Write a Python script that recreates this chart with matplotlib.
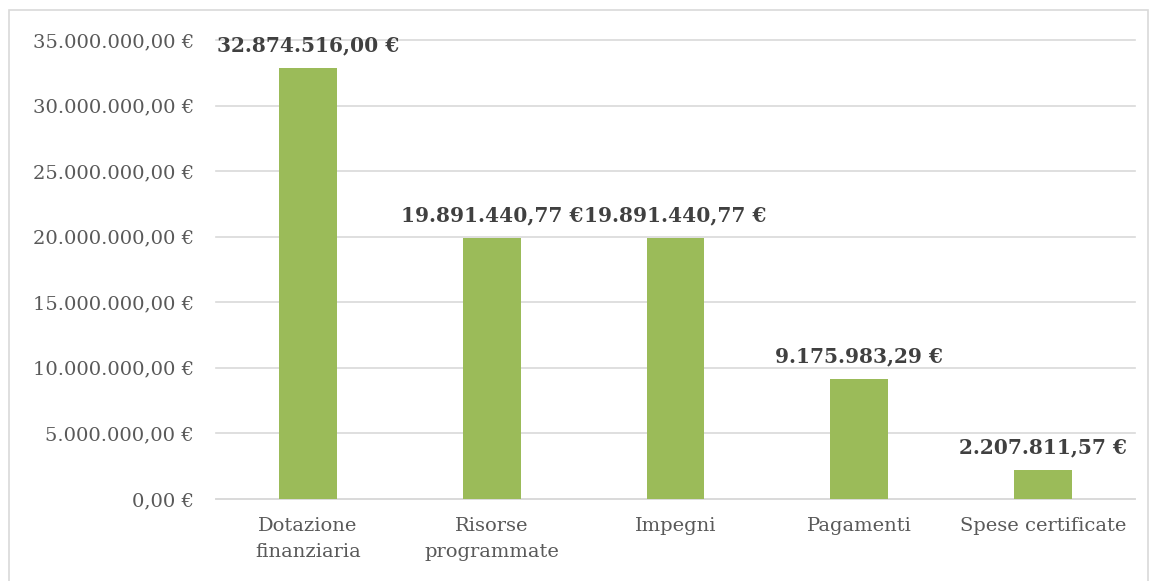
import matplotlib.pyplot as plt
from matplotlib.patches import Rectangle

categories = ["Dotazione\nfinanziaria", "Risorse\nprogrammate", "Impegni", "Pagamenti", "Spese certificate"]
values = [32874516.00, 19891440.77, 19891440.77, 9175983.29, 2207811.57]
yticks = [0, 5e6, 10e6, 15e6, 20e6, 25e6, 30e6, 35e6]


def euro(v):
    s = "{:,.2f}".format(v)
    s = s.replace(",", "X").replace(".", ",").replace("X", ".")
    return s + " €"


plt.rcParams['font.family'] = ['DejaVu Serif']

fig = plt.figure(figsize=(11.5, 5.81), dpi=100)
fig.patches.append(Rectangle((9 / 1150, -0.01), 1139 / 1150, 1 - 10 / 581 + 0.01,
                             transform=fig.transFigure, fill=False,
                             edgecolor='#D9D9D9', linewidth=1.2))

ax = fig.add_axes([216 / 1150, 1 - 499 / 581, (1135 - 216) / 1150, (499 - 40) / 581])
x = range(len(categories))
bars = ax.bar(x, values, width=0.315, color='#9BBB59', zorder=3)

ax.set_xlim(-0.5, 4.5)
ax.set_ylim(0, 35e6)
ax.set_yticks(yticks)
ax.set_yticklabels([euro(v) for v in yticks])
ax.set_xticks(list(x))
ax.set_xticklabels(categories, linespacing=1.6)
ax.grid(axis='y', color='#D9D9D9', linewidth=1.2, zorder=0)
for gl in ax.get_ygridlines():
    gl.set_clip_on(False)
for s in ['top', 'right', 'left']:
    ax.spines[s].set_visible(False)
ax.spines['bottom'].set_color('#D9D9D9')
ax.spines['bottom'].set_linewidth(1.2)
ax.tick_params(axis='both', length=0, labelsize=14, colors='#595959')
ax.tick_params(axis='y', pad=16)
ax.tick_params(axis='x', pad=13)

for b, v in zip(bars, values):
    ax.annotate(euro(v), (b.get_x() + b.get_width() / 2, v), xytext=(0, 9),
                textcoords='offset points', ha='center', va='bottom',
                fontsize=14.5, fontweight='bold', color='#404040', zorder=4)

fig.savefig('out.png', dpi=100)
